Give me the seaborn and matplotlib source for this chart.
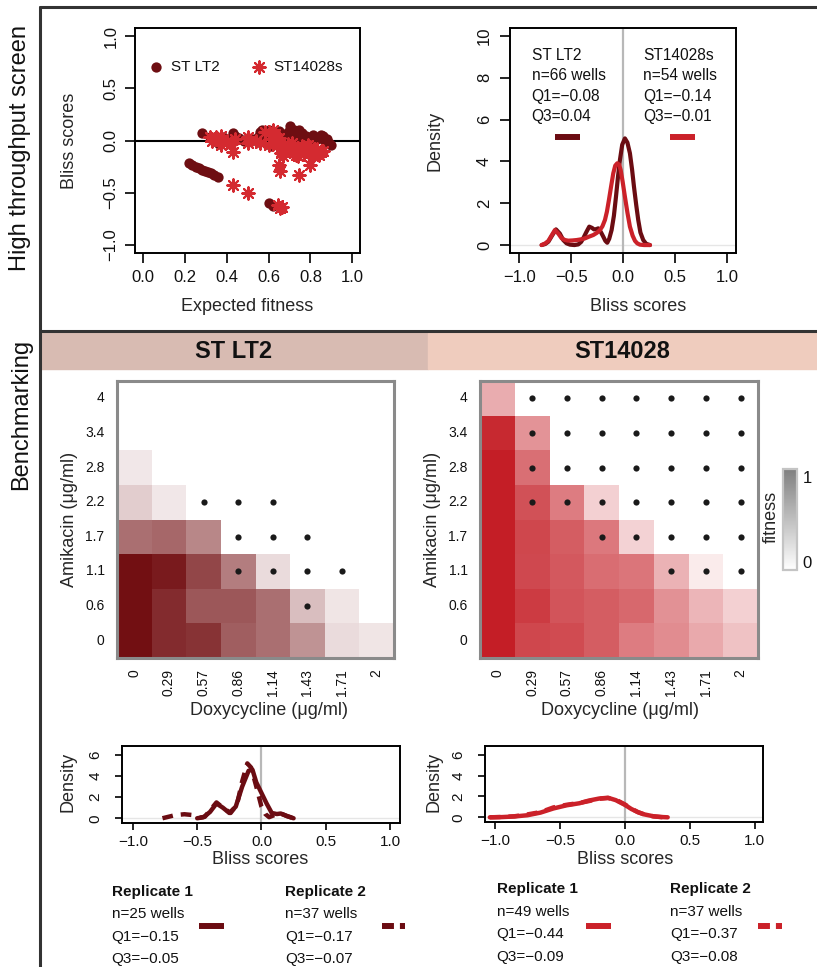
import numpy as np
import pandas as pd
import matplotlib
matplotlib.use("Agg")
import matplotlib.pyplot as plt
import seaborn as sns
from matplotlib.colors import LinearSegmentedColormap, Normalize
from matplotlib.lines import Line2D
from matplotlib.patches import Rectangle
import matplotlib.cm as cm

# ---------------- data ----------------
# High-throughput screen scatter: expected fitness vs Bliss score
lt2_expected = [0.22, 0.235, 0.25, 0.265, 0.28, 0.295, 0.31, 0.325, 0.34, 0.355,
                0.60, 0.62,
                0.28, 0.32, 0.34, 0.36, 0.38, 0.40, 0.43, 0.44, 0.46, 0.48, 0.50, 0.52,
                0.55, 0.56, 0.57, 0.58, 0.60, 0.61, 0.62, 0.63, 0.64, 0.65, 0.66, 0.67,
                0.68, 0.69, 0.70, 0.71, 0.72, 0.73, 0.74, 0.75, 0.76, 0.77, 0.78, 0.79,
                0.80, 0.81, 0.82, 0.83, 0.84, 0.85, 0.86, 0.87, 0.88, 0.89, 0.90, 0.70,
                0.55, 0.36, 0.62, 0.73, 0.745, 0.66]
lt2_bliss = [-0.22, -0.235, -0.25, -0.265, -0.28, -0.29, -0.30, -0.315, -0.33, -0.345,
             -0.60, -0.63,
             0.07, 0.03, 0.00, 0.02, 0.03, 0.01, 0.07, 0.04, 0.02, 0.00, 0.02, 0.01,
             0.03, 0.08, 0.10, 0.05, 0.10, -0.05, 0.07, 0.02, 0.05, 0.09, -0.02, 0.04,
             0.03, 0.08, 0.14, 0.06, 0.10, 0.02, 0.09, 0.05, 0.07, 0.02, 0.04, 0.00,
             0.02, 0.05, 0.03, 0.01, 0.02, 0.05, 0.04, 0.00, 0.01, -0.02, -0.04, -0.05,
             -0.01, -0.03, -0.03, -0.06, 0.10, 0.06]
st_expected = [0.43, 0.50, 0.645, 0.655, 0.665, 0.65, 0.656, 0.744, 0.80, 0.43,
               0.32, 0.33, 0.35, 0.37, 0.37, 0.40, 0.42, 0.44, 0.50, 0.50, 0.56, 0.58,
               0.60, 0.62, 0.63, 0.64, 0.66, 0.67, 0.68, 0.70, 0.72, 0.73, 0.74, 0.75,
               0.76, 0.78, 0.80, 0.80, 0.82, 0.83, 0.84, 0.85, 0.86, 0.77, 0.69, 0.71,
               0.79, 0.65, 0.61, 0.72, 0.67, 0.75, 0.81, 0.54]
st_bliss = [-0.43, -0.50, -0.62, -0.65, -0.64, -0.23, -0.29, -0.33, -0.23, -0.11,
            0.03, 0.00, 0.03, 0.04, -0.04, 0.00, -0.03, 0.01, 0.03, -0.02, -0.02, 0.08,
            -0.04, 0.10, 0.06, -0.05, -0.12, -0.15, -0.08, -0.05, -0.12, -0.14, -0.15, -0.08,
            -0.05, -0.10, -0.12, -0.06, -0.10, -0.08, -0.14, -0.11, -0.10, -0.13, -0.03, -0.02,
            -0.04, 0.02, 0.05, -0.07, -0.06, -0.12, -0.15, 0.00]

# Density of Bliss scores, high-throughput screen
dens_lt2_x = [-0.785, -0.75, -0.72, -0.685, -0.647, -0.61, -0.577, -0.545, -0.512, -0.47,
              -0.433, -0.405, -0.385, -0.355, -0.327, -0.30, -0.282, -0.26, -0.24, -0.215,
              -0.192, -0.172, -0.154, -0.135, -0.112, -0.09, -0.07, -0.05, -0.032, -0.01,
              0.016, 0.04, 0.064, 0.085, 0.103, 0.125, 0.144, 0.165, 0.192, 0.22, 0.257]
dens_lt2_y = [0.0, 0.05, 0.16, 0.45, 0.75, 0.55, 0.24, 0.08, 0.02, 0.0,
              0.03, 0.15, 0.32, 0.62, 0.88, 0.82, 0.75, 0.76, 0.80, 0.62,
              0.40, 0.20, 0.11, 0.30, 0.72, 1.40, 2.31, 3.30, 4.07, 4.80,
              5.10, 4.90, 4.39, 3.60, 2.79, 1.90, 1.20, 0.60, 0.24, 0.06, 0.0]
dens_st_x = [-0.785, -0.75, -0.72, -0.69, -0.657, -0.625, -0.592, -0.56, -0.529, -0.49,
             -0.448, -0.41, -0.368, -0.33, -0.288, -0.255, -0.224, -0.20, -0.176, -0.157,
             -0.138, -0.117, -0.096, -0.077, -0.058, -0.04, -0.025, -0.005, 0.016, 0.04,
             0.064, 0.09, 0.113, 0.135, 0.16, 0.20, 0.257]
dens_st_y = [0.0, 0.08, 0.20, 0.45, 0.72, 0.55, 0.32, 0.24, 0.21, 0.22,
             0.24, 0.27, 0.32, 0.40, 0.48, 0.58, 0.72, 0.90, 1.20, 1.60,
             2.15, 2.80, 3.43, 3.80, 3.91, 3.85, 3.59, 3.00, 2.31, 1.55,
             0.88, 0.45, 0.20, 0.08, 0.02, 0.0, 0.0]

# Benchmarking checkerboards
dox_labels = ["0", "0.29", "0.57", "0.86", "1.14", "1.43", "1.71", "2"]
ami_labels = ["4", "3.4", "2.8", "2.2", "1.7", "1.1", "0.6", "0"]
fitness_lt2 = [
    [0.00, 0.00, 0.00, 0.00, 0.00, 0.00, 0.00, 0.00],
    [0.00, 0.00, 0.00, 0.00, 0.00, 0.00, 0.00, 0.00],
    [0.10, 0.00, 0.00, 0.00, 0.00, 0.00, 0.00, 0.00],
    [0.21, 0.10, 0.00, 0.00, 0.00, 0.00, 0.00, 0.00],
    [0.60, 0.63, 0.50, 0.00, 0.00, 0.00, 0.00, 0.00],
    [1.00, 0.95, 0.77, 0.54, 0.15, 0.00, 0.00, 0.00],
    [1.00, 0.88, 0.70, 0.70, 0.60, 0.27, 0.11, 0.00],
    [1.00, 0.88, 0.85, 0.67, 0.60, 0.45, 0.15, 0.11],
]
dots_lt2 = [
    [0, 0, 0, 0, 0, 0, 0, 0],
    [0, 0, 0, 0, 0, 0, 0, 0],
    [0, 0, 0, 0, 0, 0, 0, 0],
    [0, 0, 1, 1, 1, 0, 0, 0],
    [0, 0, 0, 1, 1, 1, 0, 0],
    [0, 0, 0, 1, 1, 1, 1, 0],
    [0, 0, 0, 0, 0, 1, 0, 0],
    [0, 0, 0, 0, 0, 0, 0, 0],
]
fitness_st = [
    [0.37, 0.00, 0.00, 0.00, 0.00, 0.00, 0.00, 0.00],
    [0.95, 0.48, 0.00, 0.00, 0.00, 0.00, 0.00, 0.00],
    [1.00, 0.64, 0.00, 0.00, 0.00, 0.00, 0.00, 0.00],
    [1.00, 0.77, 0.58, 0.21, 0.00, 0.00, 0.00, 0.00],
    [1.00, 0.82, 0.72, 0.60, 0.20, 0.00, 0.00, 0.00],
    [1.00, 0.81, 0.74, 0.65, 0.61, 0.34, 0.09, 0.00],
    [1.00, 0.87, 0.76, 0.72, 0.67, 0.49, 0.33, 0.21],
    [1.00, 0.82, 0.80, 0.72, 0.58, 0.51, 0.38, 0.27],
]
dots_st = [
    [0, 1, 1, 1, 1, 1, 1, 1],
    [0, 1, 1, 1, 1, 1, 1, 1],
    [0, 1, 1, 1, 1, 1, 1, 1],
    [0, 1, 1, 1, 1, 1, 1, 1],
    [0, 0, 0, 1, 1, 1, 1, 1],
    [0, 0, 0, 0, 0, 1, 1, 1],
    [0, 0, 0, 0, 0, 0, 0, 0],
    [0, 0, 0, 0, 0, 0, 0, 0],
]

# Benchmarking densities (replicate 1 solid, replicate 2 dashed)
bm_lt2_r1_x = [-0.50, -0.45, -0.40, -0.35, -0.30, -0.25, -0.20, -0.15, -0.10, -0.07,
               -0.04, 0.00, 0.04, 0.08, 0.12, 0.15, 0.20, 0.25]
bm_lt2_r1_y = [0.0, 0.10, 0.60, 1.40, 1.00, 0.50, 1.10, 3.00, 4.50, 4.60,
               3.40, 2.40, 1.40, 0.50, 0.40, 0.45, 0.20, 0.0]
bm_lt2_r2_x = [-0.77, -0.72, -0.67, -0.60, -0.53, -0.48, -0.44, -0.39, -0.35, -0.30,
               -0.24, -0.19, -0.15, -0.11, -0.08, -0.04, 0.00, 0.03, 0.06, 0.10,
               0.15, 0.20, 0.25]
bm_lt2_r2_y = [0.0, 0.15, 0.30, 0.38, 0.30, 0.05, 0.15, 0.90, 1.50, 1.00,
               0.50, 1.30, 3.50, 5.20, 4.80, 3.00, 1.10, 0.40, 0.10, 0.30,
               0.45, 0.20, 0.0]
bm_st_r1_x = [-1.04, -0.95, -0.85, -0.75, -0.65, -0.55, -0.45, -0.35, -0.28, -0.20,
              -0.13, -0.07, 0.00, 0.05, 0.10, 0.15, 0.22, 0.28, 0.33]
bm_st_r1_y = [0.0, 0.02, 0.08, 0.20, 0.45, 0.85, 1.15, 1.35, 1.60, 1.80,
              1.88, 1.65, 1.20, 0.80, 0.50, 0.28, 0.10, 0.03, 0.0]
bm_st_r2_x = [-1.04, -0.95, -0.85, -0.75, -0.65, -0.55, -0.45, -0.35, -0.28, -0.20,
              -0.13, -0.07, 0.00, 0.05, 0.10, 0.15, 0.22, 0.28, 0.33]
bm_st_r2_y = [0.0, 0.03, 0.10, 0.28, 0.50, 0.95, 1.20, 1.38, 1.55, 1.78,
              1.85, 1.70, 1.24, 0.84, 0.50, 0.27, 0.09, 0.02, 0.0]

# Text blocks
screen_info_lt2 = ["ST LT2", "n=66 wells", "Q1=\u22120.08", "Q3=0.04"]
screen_info_st = ["ST14028s", "n=54 wells", "Q1=\u22120.14", "Q3=\u22120.01"]
rep_lt2_1 = ["Replicate 1", "n=25 wells", "Q1=\u22120.15", "Q3=\u22120.05"]
rep_lt2_2 = ["Replicate 2", "n=37 wells", "Q1=\u22120.17", "Q3=\u22120.07"]
rep_st_1 = ["Replicate 1", "n=49 wells", "Q1=\u22120.44", "Q3=\u22120.09"]
rep_st_2 = ["Replicate 2", "n=37 wells", "Q1=\u22120.37", "Q3=\u22120.08"]

# ---------------- style ----------------
sns.set_theme(style="white")
plt.rcParams["font.family"] = ["Liberation Sans", "DejaVu Sans"]
plt.rcParams["text.color"] = "#111111"
plt.rcParams["axes.unicode_minus"] = True

DARK = "#6B0C12"
RED = "#CB2129"
HM_DARK = "#720F12"
HM_RED = "#C41E26"
DOT = "#6E0E12"
STAR = "#D42A30"

W, H = 817, 967
fig = plt.figure(figsize=(W / 100, H / 100), dpi=100)


def rect(x0, y0, x1, y1):
    return [x0 / W, 1 - y1 / H, (x1 - x0) / W, (y1 - y0) / H]


def fx(px):
    return px / W


def fy(py):
    return 1 - py / H


def r_style(ax, labelsize=12, length=7, xpad=5.5, ypad=5):
    for s in ax.spines.values():
        s.set_visible(True)
        s.set_color("black")
        s.set_linewidth(1.4)
    ax.tick_params(axis="both", which="major", direction="out", length=length, width=1.2,
                   color="black", labelsize=labelsize, labelcolor="#111111",
                   bottom=True, left=True, top=False, right=False)
    ax.tick_params(axis="x", pad=xpad)
    ax.tick_params(axis="y", pad=ypad, labelrotation=90)
    plt.setp(ax.get_yticklabels(), va="center")
    ax.grid(False)


def place_labels(ax, xl, yl, xpos, ypos, fs=13):
    ax.set_xlabel(xl, fontsize=fs)
    ax.set_ylabel(yl, fontsize=fs)
    ax.xaxis.set_label_coords(*xpos)
    ax.yaxis.set_label_coords(*ypos)
    ax.xaxis.label.set_va("center")
    ax.yaxis.label.set_va("center")


def key(x0, x1, y, color, ls="-", lw=4.3, fs=10):
    fs_px = fs * 100 / 72
    h = Line2D([], [], color=color, lw=lw, ls=ls, solid_capstyle="butt", dash_capstyle="butt")
    fig.legend(handles=[h], labels=[""], loc="center",
               bbox_to_anchor=(fx((x0 + x1) / 2), fy(y)), bbox_transform=fig.transFigure,
               frameon=False, handlelength=(x1 - x0) / fs_px, handletextpad=0,
               borderpad=0, borderaxespad=0, fontsize=fs)


def text_block(x, y0, dy, lines, fs=11, bold_first=False):
    for i, t in enumerate(lines):
        fig.text(fx(x), fy(y0 + i * dy), t, fontsize=fs, ha="left", va="baseline",
                 fontweight="bold" if (bold_first and i == 0) else "normal")


# ---------------- frame decorations ----------------
fig.patches.append(Rectangle((fx(40), fy(369)), fx(428) - fx(40), 36 / H,
                             transform=fig.transFigure, color="#D8BBB2", zorder=0))
fig.patches.append(Rectangle((fx(428), fy(369)), fx(817) - fx(428), 36 / H,
                             transform=fig.transFigure, color="#EFCCBE", zorder=0))
for xs, ys in [([40, 817], [7, 7]), ([40, 40], [7, 967]), ([40, 817], [330.5, 330.5])]:
    fig.add_artist(Line2D([fx(v) for v in xs], [fy(v) for v in ys], color="#333333", lw=2.2))

fig.text(fx(20), fy(148), "High throughput screen", rotation=90, ha="center", va="center",
         fontsize=17)
fig.text(fx(21), fy(414), "Benchmarking", rotation=90, ha="center", va="center", fontsize=17)
fig.text(fx(234), fy(351), "ST LT2", ha="center", va="center", fontsize=17, fontweight="bold")
fig.text(fx(622), fy(351), "ST14028", ha="center", va="center", fontsize=17, fontweight="bold")

# ---------------- scatter ----------------
ax1 = fig.add_axes(rect(135, 28, 360, 253))
ax1.axhline(0, color="black", lw=1.5, zorder=1)
sns.scatterplot(x=lt2_expected, y=lt2_bliss, ax=ax1, color=DOT, marker="o", s=55,
                edgecolor=DOT, linewidth=0, label="ST LT2", zorder=2)
sns.scatterplot(x=st_expected, y=st_bliss, ax=ax1, color=STAR, marker=(8, 2, 0), s=80,
                linewidth=1.5, label="ST14028s", zorder=3)
ax1.set_xlim(-0.04, 1.037)
ax1.set_ylim(-1.077, 1.077)
ax1.set_xticks([0, 0.2, 0.4, 0.6, 0.8, 1.0])
ax1.set_yticks([-1.0, -0.5, 0.0, 0.5, 1.0])
r_style(ax1)
place_labels(ax1, "Expected fitness", "Bliss scores", (0.498, -0.238), (-0.289, 0.5))
fs_px = 11 * 100 / 72
ax1.legend(loc="center left", bbox_to_anchor=(fx(149.9), fy(66.7)), bbox_transform=fig.transFigure,
           ncol=2, frameon=False, fontsize=11, handlelength=0.8, handletextpad=0.56,
           columnspacing=2.17, borderpad=0, borderaxespad=0, markerscale=1.0)

# ---------------- screen density ----------------
ax2 = fig.add_axes(rect(510, 28, 736, 253))
ax2.axvline(0, color="#b8b8b8", lw=1.6, zorder=1)
ax2.axhline(0, color="#e6e6e6", lw=1.0, zorder=0)
sns.lineplot(x=dens_lt2_x, y=dens_lt2_y, ax=ax2, color=DARK, lw=3.0, sort=False,
             estimator=None, zorder=2)
sns.lineplot(x=dens_st_x, y=dens_st_y, ax=ax2, color=RED, lw=3.0, sort=False,
             estimator=None, zorder=3)
ax2.set_xlim(-1.089, 1.084)
ax2.set_ylim(-0.38, 10.38)
ax2.set_xticks([-1.0, -0.5, 0.0, 0.5, 1.0])
ax2.set_yticks([0, 2, 4, 6, 8, 10])
r_style(ax2, ypad=6)
place_labels(ax2, "Bliss scores", "Density", (0.569, -0.238), (-0.332, 0.5))
text_block(531.7, 60, 20.3, screen_info_lt2, fs=11.2)
text_block(643, 60, 20.3, screen_info_st, fs=11.2)
key(555, 580, 138, DARK)
key(670, 695, 138, RED)

# ---------------- heatmaps ----------------
def checkerboard(axr, fit, dots, base, xlab_pos, ylab_pos):
    ax = fig.add_axes(axr)
    cmap = LinearSegmentedColormap.from_list("c", ["#FFFFFF", base])
    df = pd.DataFrame(fit, index=ami_labels, columns=dox_labels)
    sns.heatmap(df, ax=ax, cmap=cmap, vmin=0, vmax=1, cbar=False, linewidths=0)
    r, c = np.nonzero(np.array(dots))
    sns.scatterplot(x=c + 0.5, y=r + 0.5, ax=ax, color="#1a1a1a", s=20, linewidth=0,
                    legend=False, zorder=3)
    ax.set_xlim(0, 8)
    ax.set_ylim(8, 0)
    for s in ax.spines.values():
        s.set_visible(True)
        s.set_color("#8a8a8a")
        s.set_linewidth(2.2)
    ax.tick_params(axis="both", length=0, labelsize=10, labelcolor="#111111")
    ax.tick_params(axis="x", pad=8, labelrotation=90)
    ax.tick_params(axis="y", pad=9, labelrotation=0)
    place_labels(ax, "Doxycycline (\u03bcg/ml)", "Amikacin (\u03bcg/ml)", xlab_pos, ylab_pos)
    return ax


ax3 = checkerboard(rect(117, 381, 394, 658), fitness_lt2, dots_lt2, HM_DARK,
                   (0.549, -0.191), (-0.171, 0.5))
ax4 = checkerboard(rect(480, 381, 758, 658), fitness_st, dots_st, HM_RED,
                   (0.504, -0.191), (-0.171, 0.5))

# colorbar
cax = fig.add_axes(rect(783, 469, 797, 570))
gray_cmap = LinearSegmentedColormap.from_list("g", ["#FFFFFF", "#7F7F7F"])
sm = cm.ScalarMappable(norm=Normalize(-0.09, 1.1), cmap=gray_cmap)
cb = fig.colorbar(sm, cax=cax, ticks=[0, 1])
cb.ax.set_yticklabels(["0", "1"])
cb.outline.set_edgecolor("#c4c4c4")
cb.outline.set_linewidth(1.6)
cax.tick_params(length=0, labelsize=12, pad=4, labelcolor="#111111")
cax.set_ylabel("fitness", fontsize=13)
cax.yaxis.set_label_position("left")
cax.yaxis.set_label_coords(-0.81, 0.53)
cax.yaxis.label.set_va("center")

# ---------------- benchmarking densities ----------------
def bm_density(axr, x1, y1, x2, y2, color, xlim, xpos, ypos):
    ax = fig.add_axes(axr)
    ax.axvline(0, color="#b8b8b8", lw=1.6, zorder=1)
    ax.axhline(0, color="#e6e6e6", lw=1.0, zorder=0)
    sns.lineplot(x=x1, y=y1, ax=ax, color=color, lw=3.2, sort=False, estimator=None, zorder=2)
    sns.lineplot(x=x2, y=y2, ax=ax, color=color, lw=3.2, sort=False, estimator=None, zorder=3,
                 linestyle=(0, (2.4, 1.8)))
    ax.set_xlim(*xlim)
    ax.set_ylim(-0.45, 6.85)
    ax.set_xticks([-1.0, -0.5, 0.0, 0.5, 1.0])
    ax.set_yticks([0, 2, 4, 6])
    r_style(ax, labelsize=11, length=5, xpad=3.5, ypad=9)
    place_labels(ax, "Bliss scores", "Density", xpos, ypos)
    return ax


ax5 = bm_density(rect(122, 746, 400, 823), bm_lt2_r1_x, bm_lt2_r1_y, bm_lt2_r2_x, bm_lt2_r2_y,
                 DARK, (-1.085, 1.078), (0.498, -0.48), (-0.194, 0.536))
ax6 = bm_density(rect(485, 746, 763, 822), bm_st_r1_x, bm_st_r1_y, bm_st_r2_x, bm_st_r2_y,
                 RED, (-1.077, 1.064), (0.504, -0.5), (-0.182, 0.526))

text_block(111.7, 895.7, 22.5, rep_lt2_1, fs=11, bold_first=True)
text_block(285, 895.7, 22.5, rep_lt2_2, fs=11, bold_first=True)
text_block(496.7, 893.3, 22.5, rep_st_1, fs=11, bold_first=True)
text_block(670, 893.3, 22.5, rep_st_2, fs=11, bold_first=True)
key(199, 224, 927, DARK)
key(381.7, 405, 927, DARK, ls=(0, (2, 1)))
key(586, 611, 927, RED)
key(758, 782, 927, RED, ls=(0, (2, 1)))

fig.savefig("out.png", dpi=100)
